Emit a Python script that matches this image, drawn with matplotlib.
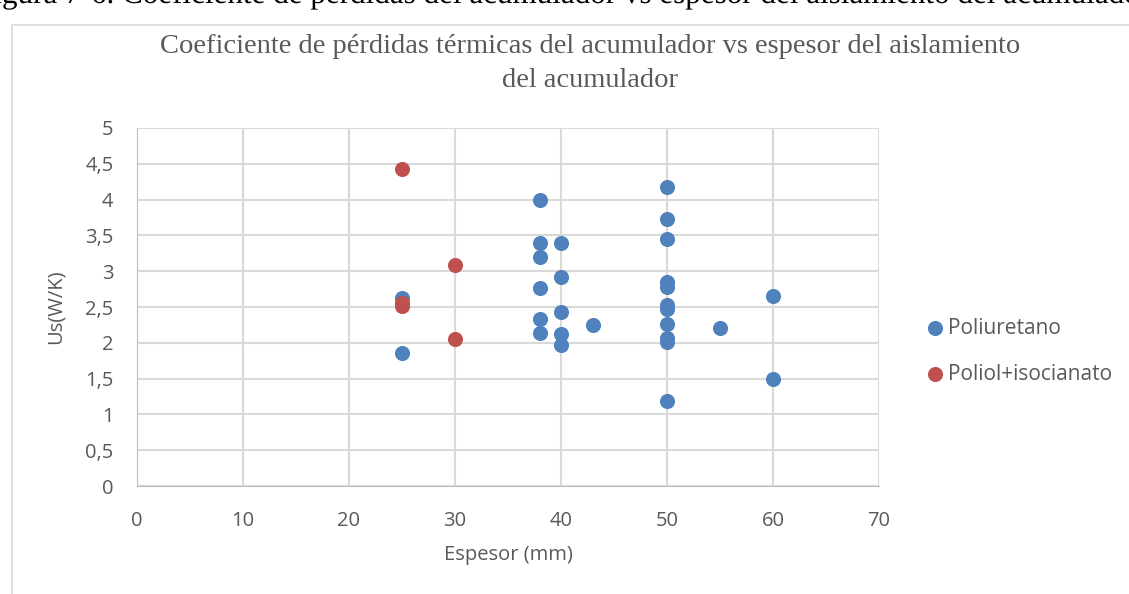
import matplotlib.pyplot as plt
from matplotlib.patches import Rectangle, PathPatch
from matplotlib.ticker import FuncFormatter
from matplotlib.textpath import TextPath
from matplotlib.font_manager import FontProperties
from matplotlib.transforms import Affine2D

# Poliuretano
espesor_pu = [25, 25, 38, 38, 38, 38, 38, 38, 40, 40, 40, 40, 40, 43,
              50, 50, 50, 50, 50, 50, 50, 50, 50, 50, 50, 55, 60, 60]
us_pu = [2.63, 1.86, 3.99, 3.40, 3.20, 2.77, 2.33, 2.14, 3.39, 2.92, 2.43, 2.12, 1.97, 2.25,
         4.17, 3.73, 3.45, 2.85, 2.78, 2.53, 2.47, 2.26, 2.07, 2.01, 1.19, 2.20, 2.66, 1.50]

# Poliol+isocianato
espesor_pi = [25, 25, 25, 30, 30]
us_pi = [4.43, 2.56, 2.52, 3.08, 2.05]

x_ticks = [0, 10, 20, 30, 40, 50, 60, 70]
y_ticks = [0, 0.5, 1, 1.5, 2, 2.5, 3, 3.5, 4, 4.5, 5]

caption = 'Figura 7-6. Coeficiente de pérdidas del acumulador vs espesor del aislamiento del acumulador'

grey_text = '#595959'
grid_col = '#D9D9D9'

fig = plt.figure(figsize=(11.29, 5.94), dpi=100)

# caption of the document, only its lower edge shows at the top
# (drawn as a path so it clips cleanly at the figure edge)
cap_path = TextPath((0, 0), caption, prop=FontProperties(family='Liberation Serif', size=22.4))
cap_tr = Affine2D().scale(1 / 72).translate(-0.24, 5.91) + fig.dpi_scale_trans
fig.patches.append(PathPatch(cap_path, transform=cap_tr, facecolor='black', edgecolor='none'))

# chart frame
fig.patches.append(Rectangle((12 / 1129, -0.05), 1.2, (594 - 25) / 594 + 0.05,
                             transform=fig.transFigure, fill=False, edgecolor='#D9D9D9', linewidth=1.2))

ax = fig.add_axes([137 / 1129, 108 / 594, 742 / 1129, 358 / 594])
ax.scatter(espesor_pu, us_pu, s=118, color='#4F81BD', label='Poliuretano', zorder=3, linewidths=0)
ax.scatter(espesor_pi, us_pi, s=118, color='#C0504D', label='Poliol+isocianato', zorder=3, linewidths=0)

ax.set_xlim(0, 70)
ax.set_ylim(0, 5)
ax.set_xticks(x_ticks)
ax.set_yticks(y_ticks)
ax.yaxis.set_major_formatter(FuncFormatter(lambda v, p: ('%g' % v).replace('.', ',')))
ax.grid(True, color=grid_col, linewidth=1.5, zorder=0)
ax.set_axisbelow(True)
for s in ax.spines.values():
    s.set_visible(False)
ax.spines['left'].set_visible(True)
ax.spines['bottom'].set_visible(True)
ax.spines['left'].set_color('#BFBFBF')
ax.spines['bottom'].set_color('#BFBFBF')
ax.tick_params(axis='x', length=0, labelsize=14.5, labelcolor=grey_text, pad=18)
ax.tick_params(axis='y', length=0, labelsize=14.5, labelcolor=grey_text, pad=17)
for lbl in ax.get_xticklabels() + ax.get_yticklabels():
    lbl.set_family('Open Sans')

ax.set_xlabel('Espesor (mm)', fontsize=14.5, color=grey_text, family='Open Sans', labelpad=10)
ax.set_ylabel('Us(W/K)', fontsize=14.5, color=grey_text, family='Open Sans', labelpad=14)

fig.text(0.523, 0.893, 'Coeficiente de pérdidas térmicas del acumulador vs espesor del aislamiento\ndel acumulador',
         ha='center', va='center', fontsize=20.5, family='Liberation Serif', color=grey_text,
         linespacing=1.5)

leg = ax.legend(loc='center left', bbox_to_anchor=(1.063, 0.377), frameon=False, fontsize=15,
                handlelength=0.9, handletextpad=0.15, labelspacing=1.2, markerscale=1.0,
                borderaxespad=0, borderpad=0)
for t in leg.get_texts():
    t.set_color(grey_text)
    t.set_family('Open Sans')

fig.savefig('out.png', dpi=100)
